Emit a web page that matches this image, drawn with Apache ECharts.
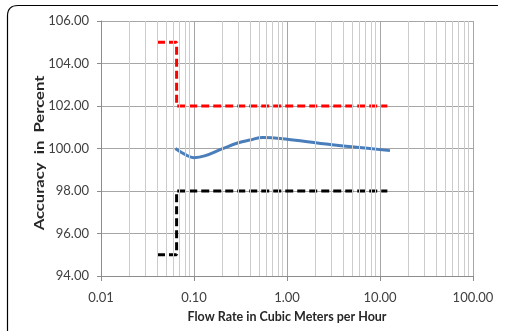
<!DOCTYPE html>
<html>
<head>
<meta charset="utf-8">
<script src="https://cdn.jsdelivr.net/npm/echarts@6/dist/echarts.min.js"></script>
<style>
html,body{margin:0;padding:0;background:#fff;}
#chart{width:507px;height:336px;}
</style>
</head>
<body>
<div id="chart"></div>
<script>
// Data
const xTickLabels = ['0.01', '0.10', '1.00', '10.00', '100.00'];
const yTickLabels = ['94.00', '96.00', '98.00', '100.00', '102.00', '104.00', '106.00'];
const xTitle = 'Flow Rate in Cubic Meters per Hour';
const yTitle = 'Accuracy  in  Percent';

const accuracyX = [0.063, 0.08, 0.1, 0.13, 0.2, 0.3, 0.4, 0.55, 1.0, 2.3, 5.6, 12.8];
const accuracyY = [100.0, 99.72, 99.57, 99.65, 99.98, 100.27, 100.4, 100.52, 100.44, 100.24, 100.06, 99.9];

const upperLimitX = [0.04, 0.065, 0.065, 12];
const upperLimitY = [105, 105, 102, 102];

const lowerLimitX = [0.04, 0.065, 0.065, 12];
const lowerLimitY = [95, 95, 98, 98];

const minorGridX = [0.02, 0.03, 0.04, 0.05, 0.06, 0.07, 0.08, 0.09,
  0.2, 0.3, 0.4, 0.5, 0.6, 0.7, 0.8, 0.9,
  2, 3, 4, 5, 6, 7, 8, 9,
  20, 30, 40, 50, 60, 70, 80, 90];

const zip = (xs, ys) => xs.map((x, i) => [x, ys[i]]);

const FONT = 'Lato';
const chart = echarts.init(document.getElementById('chart'), null, {renderer: 'canvas'});

chart.setOption({
  animation: false,
  backgroundColor: '#ffffff',
  grid: {left: 101, right: 34, top: 21, bottom: 60, containLabel: false},
  xAxis: {
    type: 'log',
    logBase: 10,
    min: 0.01,
    max: 100,
    name: xTitle,
    nameLocation: 'middle',
    nameGap: 34,
    nameTextStyle: {fontFamily: FONT, fontWeight: 'bold', fontSize: 12.5, color: '#262626'},
    axisLine: {show: true, lineStyle: {color: '#8c8c8c', width: 1}},
    axisTick: {show: true, inside: false, length: 5, lineStyle: {color: '#8c8c8c'}},
    axisLabel: {
      fontFamily: FONT, fontSize: 13, color: '#404040', margin: 15,
      formatter: function (v) {
        const idx = Math.round(Math.log10(v)) + 2;
        return xTickLabels[idx] !== undefined ? xTickLabels[idx] : '';
      }
    },
    splitLine: {show: true, lineStyle: {color: '#a6a6a6', width: 1}}
  },
  yAxis: {
    type: 'value',
    min: 94,
    max: 106,
    interval: 2,
    axisLine: {show: true, lineStyle: {color: '#8c8c8c', width: 1}},
    axisTick: {show: true, inside: false, length: 4, lineStyle: {color: '#8c8c8c'}},
    axisLabel: {
      fontFamily: FONT, fontSize: 13, color: '#404040', margin: 12,
      formatter: function (v) {
        const idx = Math.round((v - 94) / 2);
        return yTickLabels[idx] !== undefined ? yTickLabels[idx] : '';
      }
    },
    splitLine: {show: true, lineStyle: {color: '#a6a6a6', width: 1}}
  },
  graphic: [
    {type: 'line', shape: {x1: 7.5, y1: 331, x2: 7.5, y2: 16}, style: {stroke: '#000', lineWidth: 1.2}},
    {type: 'bezierCurve', shape: {x1: 7.5, y1: 16, cpx1: 7.5, cpy1: 5.5, x2: 18, y2: 5.5}, style: {stroke: '#000', lineWidth: 1.2, fill: null}},
    {type: 'line', shape: {x1: 18, y1: 5.5, x2: 498, y2: 5.5}, style: {stroke: '#000', lineWidth: 1.2}},
    {
      type: 'text',
      x: 40, y: 153,
      rotation: Math.PI / 2,
      scaleX: 1.28,
      style: {
        text: yTitle,
        fontFamily: FONT, fontWeight: 'bold', fontSize: 13, fill: '#262626',
        align: 'center', verticalAlign: 'middle'
      }
    }
  ],
  series: [
    {
      name: 'minorGrid',
      type: 'line',
      z: 1,
      data: [],
      showSymbol: false,
      silent: true,
      markLine: {
        silent: true,
        symbol: ['none', 'none'],
        label: {show: false},
        lineStyle: {color: '#cccccc', width: 1, type: 'solid'},
        data: minorGridX.map(v => ({xAxis: v}))
      }
    },
    {
      name: 'Upper limit',
      type: 'line',
      z: 3,
      data: zip(upperLimitX, upperLimitY),
      showSymbol: false,
      symbol: 'none',
      lineStyle: {color: '#ff0000', width: 3, type: [8, 4], cap: 'butt'}
    },
    {
      name: 'Lower limit',
      type: 'line',
      z: 3,
      data: zip(lowerLimitX, lowerLimitY),
      showSymbol: false,
      symbol: 'none',
      lineStyle: {color: '#000000', width: 3, type: [8, 4], cap: 'butt'}
    },
    {
      name: 'Accuracy',
      type: 'line',
      z: 4,
      data: zip(accuracyX, accuracyY),
      smooth: 0.4,
      showSymbol: false,
      symbol: 'none',
      lineStyle: {color: '#4a7ebb', width: 3}
    }
  ]
});
</script>
</body>
</html>
